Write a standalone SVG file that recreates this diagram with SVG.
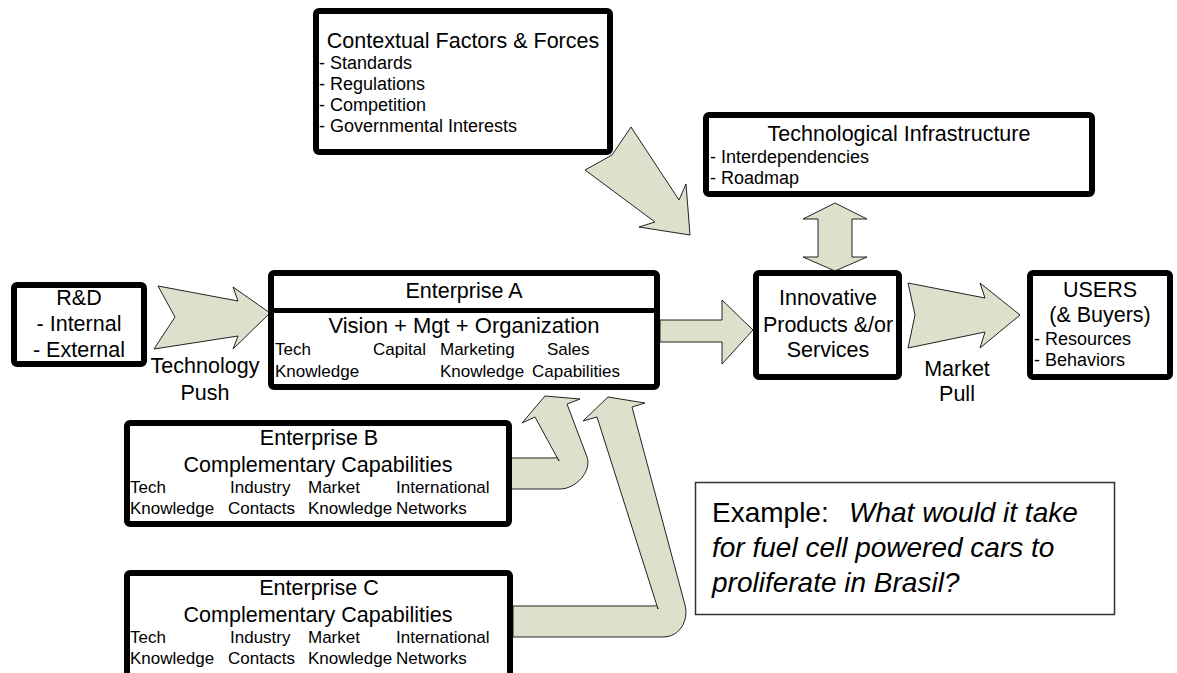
<svg xmlns="http://www.w3.org/2000/svg" width="1177" height="673" viewBox="0 0 1177 673">
  <style>
    text { font-family: "Liberation Sans", Arial, sans-serif; fill: #000; }
    .big { font-size: 21.5px; }
    .mid { font-size: 18px; }
    .sm { font-size: 17px; }
    .c { text-anchor: middle; }
    .box { fill: #fff; stroke: #000; stroke-width: 6; }
    .arrow { fill: #dde0cb; stroke: #222; stroke-width: 1; stroke-linejoin: miter; }
    .ex { font-size: 28px; }
  </style>

  <rect width="1177" height="673" fill="#fff"/>

  <!-- block arrows -->
  <g id="connectors">
    <!-- Technology Push -->
    <polygon class="arrow" points="158,286 238,301 233,287 270,313 233,349 238,336 154,349 175,317"/>
    <!-- Enterprise A to products -->
    <polygon class="arrow" points="660,320 722,320 722,300 753,330 722,364 722,342 660,342"/>
    <!-- Market Pull -->
    <polygon class="arrow" points="908,283 985,298 980,283 1020,315 980,348 985,332 908,348 915,315"/>
    <!-- contextual forces into products -->
    <polygon class="arrow" points="631,127 679,200 686,184 690,235 639,227 655,222 585,170 612,155"/>
    <!-- infrastructure two-way -->
    <polygon class="arrow" points="835,203 867,219 852,219 852,257 867,257 835,271 803,257 818,257 818,219 803,219"/>
    <!-- Enterprise B feeding Enterprise A -->
    <path class="arrow" d="M509,458 L554,458 A3.5,3.5 0 0 1 559,461 L535,417 L522,423 L545,396 L580,399 L567,404 L587,457 C592,471 576,489 560,489 L509,489 Z"/>
    <!-- Enterprise C feeding Enterprise A -->
    <path class="arrow" d="M513,606 L653,606 A3.5,3.5 0 0 1 658,609 L597,417 L583,421 L608,397 L645,403 L632,407 L685,605 C689,620 680,637 663,637 L513,637 Z"/>
  </g>

  <g id="contextual">
    <rect class="box" x="316" y="11" width="294" height="141" rx="3"/>
    <text class="big c" x="463" y="48">Contextual Factors &amp; Forces</text>
    <text class="mid" x="319" y="69">- Standards</text>
    <text class="mid" x="319" y="90">- Regulations</text>
    <text class="mid" x="319" y="111">- Competition</text>
    <text class="mid" x="319" y="132">- Governmental Interests</text>
  </g>

  <g id="infrastructure">
    <rect class="box" x="706" y="115" width="386" height="79" rx="3"/>
    <text class="big c" x="899" y="141">Technological Infrastructure</text>
    <text class="mid" x="710" y="163">- Interdependencies</text>
    <text class="mid" x="710" y="184">- Roadmap</text>
  </g>

  <g id="rnd">
    <rect class="box" x="14" y="285" width="130" height="79" rx="3"/>
    <text class="big c" x="79" y="305">R&amp;D</text>
    <text class="big c" x="79" y="331">- Internal</text>
    <text class="big c" x="79" y="357">- External</text>
  </g>

  <g id="tech-push-label">
    <text class="big c" x="205" y="373">Technology</text>
    <text class="big c" x="205" y="400">Push</text>
  </g>

  <g id="enterprise-a">
    <rect class="box" x="271" y="273" width="386" height="114" rx="3"/>
    <line x1="271" y1="310.5" x2="657" y2="310.5" stroke="#000" stroke-width="5"/>
    <text class="big c" x="464" y="298">Enterprise A</text>
    <text class="c" x="464" y="333" font-size="22">Vision + Mgt + Organization</text>
    <text class="sm" x="275" y="355">Tech</text>
    <text class="sm" x="373" y="355">Capital</text>
    <text class="sm" x="440" y="355">Marketing</text>
    <text class="sm" x="547" y="355">Sales</text>
    <text class="sm" x="275" y="377">Knowledge</text>
    <text class="sm" x="440" y="377">Knowledge</text>
    <text class="sm" x="532" y="377">Capabilities</text>
  </g>

  <g id="products">
    <rect class="box" x="756" y="273" width="143" height="104" rx="3"/>
    <text class="big c" x="828" y="305">Innovative</text>
    <text class="big c" x="828" y="332">Products &amp;/or</text>
    <text class="big c" x="828" y="357">Services</text>
  </g>

  <g id="market-pull-label">
    <text class="big c" x="957" y="376">Market</text>
    <text class="big c" x="957" y="401">Pull</text>
  </g>

  <g id="users">
    <rect class="box" x="1030" y="273" width="140" height="104" rx="3"/>
    <text class="big c" x="1100" y="297">USERS</text>
    <text class="big c" x="1100" y="322">(&amp; Buyers)</text>
    <text class="mid" x="1034" y="345">- Resources</text>
    <text class="mid" x="1034" y="366">- Behaviors</text>
  </g>

  <g id="enterprise-b">
    <rect class="box" x="127" y="423" width="382" height="101" rx="3"/>
    <text class="big c" x="319" y="445">Enterprise B</text>
    <text class="big c" x="318" y="472">Complementary Capabilities</text>
    <text class="sm" x="130" y="493">Tech</text>
    <text class="sm" x="230" y="493">Industry</text>
    <text class="sm" x="308" y="493">Market</text>
    <text class="sm" x="396" y="493">International</text>
    <text class="sm" x="130" y="514">Knowledge</text>
    <text class="sm" x="228" y="514">Contacts</text>
    <text class="sm" x="308" y="514">Knowledge</text>
    <text class="sm" x="396" y="514">Networks</text>
  </g>

  <g id="enterprise-c">
    <rect class="box" x="127" y="573" width="383" height="112" rx="3"/>
    <text class="big c" x="319" y="595">Enterprise C</text>
    <text class="big c" x="318" y="622">Complementary Capabilities</text>
    <text class="sm" x="130" y="643">Tech</text>
    <text class="sm" x="230" y="643">Industry</text>
    <text class="sm" x="308" y="643">Market</text>
    <text class="sm" x="396" y="643">International</text>
    <text class="sm" x="130" y="664">Knowledge</text>
    <text class="sm" x="228" y="664">Contacts</text>
    <text class="sm" x="308" y="664">Knowledge</text>
    <text class="sm" x="396" y="664">Networks</text>
  </g>

  <g id="example">
    <rect x="695.5" y="482.5" width="419" height="132" fill="#fff" stroke="#333" stroke-width="1.5"/>
    <text class="ex" x="712" y="522">Example:<tspan x="849" font-style="italic">What would it take</tspan></text>
    <text class="ex" x="712" y="557" font-style="italic">for fuel cell powered cars to</text>
    <text class="ex" x="712" y="592" font-style="italic">proliferate in Brasil?</text>
  </g>
</svg>
